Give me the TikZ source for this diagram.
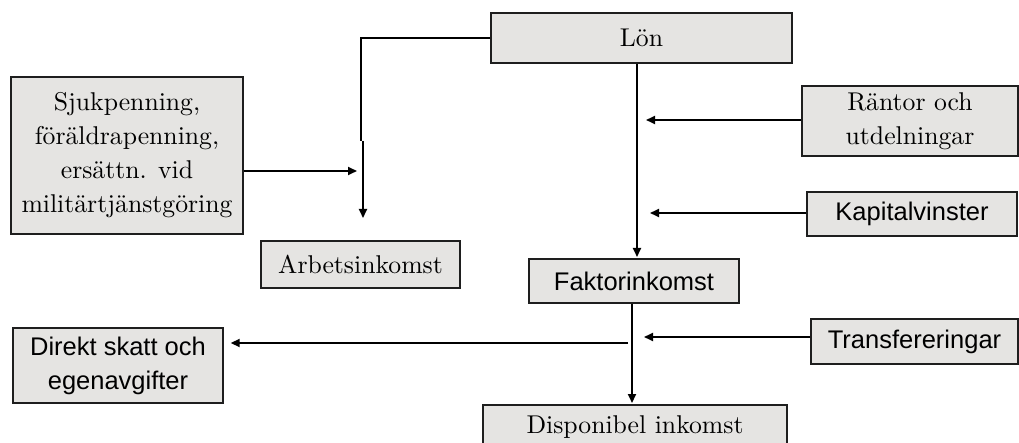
\documentclass[tikz,border=0pt]{standalone}
\usepackage{fontspec}
\setmainfont{lmroman10-regular}[Extension=.otf]
\newfontfamily\sansf{Liberation Sans}
\usetikzlibrary{arrows.meta}
\definecolor{boxfill}{RGB}{229,228,226}
\definecolor{boxline}{RGB}{30,30,30}
\begin{document}
\begin{tikzpicture}[x=1pt,y=-1pt,
  box/.style={draw=boxline,line width=1.4pt,fill=boxfill,inner sep=0pt,align=center,
    font=\fontsize{25.7}{34}\selectfont},
  sbox/.style={box,font=\sansf\fontsize{25.5}{34}\selectfont},
  arr/.style={line width=1.8pt,draw=black,-{Triangle[length=9pt,width=8pt]}},
  ln/.style={line width=1.6pt,draw=black}]
\useasboundingbox (0,0) rectangle (1019,443);
\node[box,minimum width=301pt,minimum height=50pt] (lon) at (641.5,38) {Lön};
\node[box,minimum width=232pt,minimum height=157pt] (sjuk) at (127,155.5)
  {Sjukpenning,\\föräldrapenning,\\ersättn. vid\\militärtjänstgöring};
\node[box,minimum width=216pt,minimum height=70pt] (rantor) at (910,121)
  {Räntor och\\utdelningar};
\node[sbox,minimum width=210pt,minimum height=44pt] (kapital) at (912,214) {Kapitalvinster};
\node[box,minimum width=199pt,minimum height=47pt] (arbets) at (360.5,264.5) {Arbetsinkomst};
\node[sbox,minimum width=210pt,minimum height=44pt] (faktor) at (634,281) {Faktorinkomst};
\node[sbox,minimum width=210pt,minimum height=75pt] (direkt) at (118,365.5)
  {Direkt skatt och\\egenavgifter};
\node[sbox,minimum width=207pt,minimum height=45pt] (transf) at (914.5,341.5) {Transfereringar};
\node[box,minimum width=304pt,minimum height=44pt] (dispon) at (635,427) {Disponibel inkomst};
% coordinates
\coordinate (c1) at (361,141);
\coordinate (c1b) at (363,141);
\coordinate (c1t) at (363,218);
\coordinate (c2) at (357,171);
\coordinate (c3) at (637,257);
\coordinate (r1) at (646,120);
\coordinate (k1) at (650,213);
\coordinate (f1) at (632,403);
\coordinate (d1) at (628,343);
\coordinate (t1) at (644,337);
% connectors
\draw[ln] (lon.west) -| (c1);
\draw[arr] (c1b) -- (c1t);
\draw[arr] (sjuk.east |- c2) -- (c2);
\draw[arr] (lon.south -| c3) -- (c3);
\draw[arr] (rantor.west |- r1) -- (r1);
\draw[arr] (kapital.west |- k1) -- (k1);
\draw[arr] (faktor.south -| f1) -- (f1);
\draw[arr,shorten >=7pt] (d1) -- (direkt.east |- d1);
\draw[arr] (transf.west |- t1) -- (t1);
\end{tikzpicture}
\end{document}
